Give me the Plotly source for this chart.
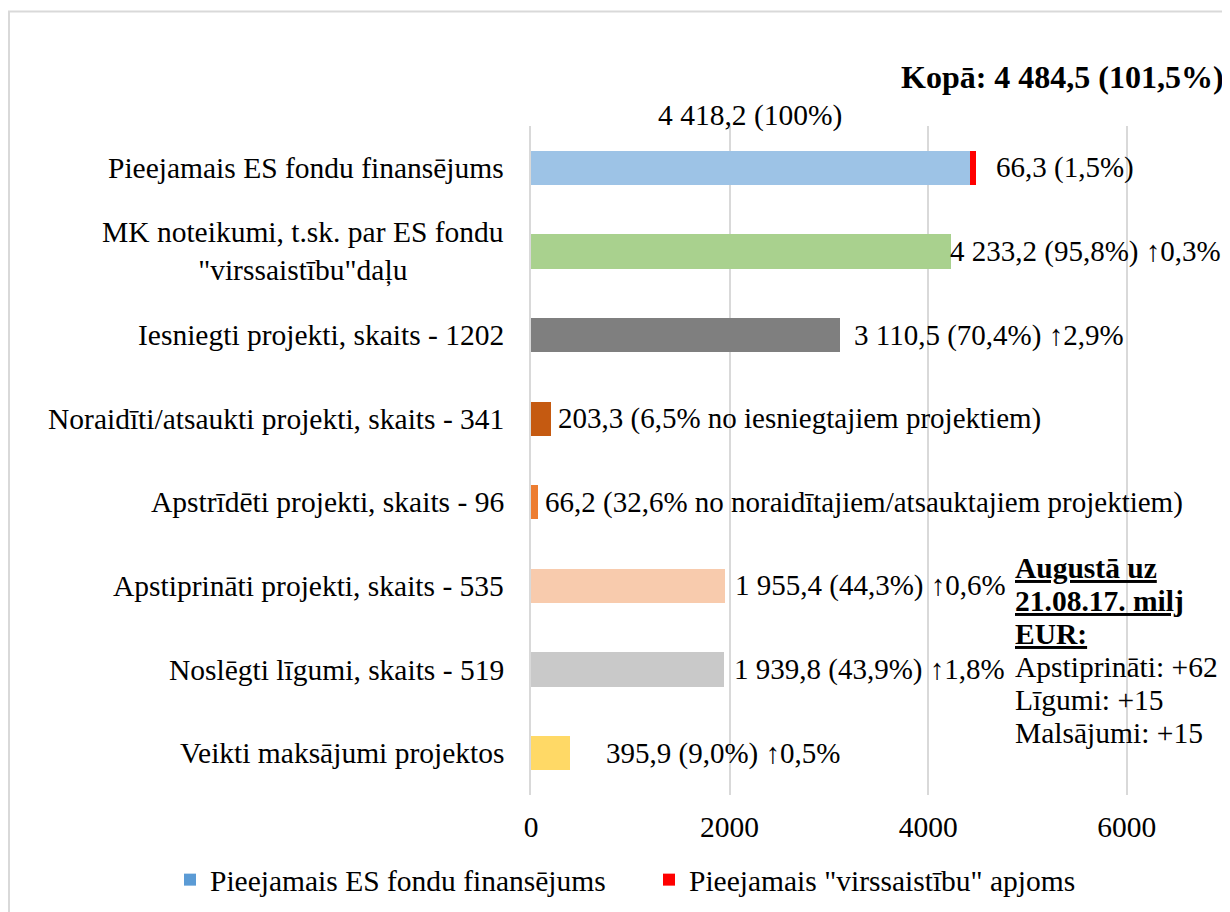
import plotly.graph_objects as go

categories = [
    "Pieejamais ES fondu finansējums",
    "MK noteikumi, t.sk. par ES fondu<br>\"virssaistību\"daļu",
    "Iesniegti projekti, skaits - 1202",
    "Noraidīti/atsaukti projekti, skaits - 341",
    "Apstrīdēti projekti, skaits - 96",
    "Apstiprināti projekti, skaits - 535",
    "Noslēgti līgumi, skaits - 519",
    "Veikti maksājumi projektos",
]
main_values = [4418.2, 4233.2, 3110.5, 203.3, 66.2, 1955.4, 1939.8, 395.9]
main_colors = ["#9DC3E6", "#A9D18E", "#7F7F7F", "#C55A11", "#ED7D31", "#F8CBAD", "#C9C9C9", "#FFD966"]
over_values = [66.3, 0, 0, 0, 0, 0, 0, 0]
value_labels = [
    "66,3 (1,5%)",
    "4 233,2 (95,8%) ↑0,3%",
    "3 110,5 (70,4%) ↑2,9%",
    "203,3 (6,5% no iesniegtajiem projektiem)",
    "66,2 (32,6% no noraidītajiem/atsauktajiem projektiem)",
    "1 955,4 (44,3%) ↑0,6%",
    "1 939,8 (43,9%) ↑1,8%",
    "395,9 (9,0%) ↑0,5%",
]
label_shift = [18, -3, 12, 5, 5, 8, 8, 34]
top_label = "4 418,2 (100%)"
total_label = "<b>Kopā: 4 484,5 (101,5%)</b>"
note_lines = ["<b><u>Augustā uz</u></b>", "<b><u>21.08.17. milj</u></b>", "<b><u>EUR:</u></b>",
              "Apstiprināti: +62", "Līgumi: +15", "Malsājumi: +15"]
legend_names = ["Pieejamais ES fondu finansējums", "Pieejamais \"virssaistību\" apjoms"]
legend_colors = ["#5B9BD5", "#FF0000"]
x_ticks = [0, 2000, 4000, 6000]

FONT = "Liberation Serif"
FS = 29.5
FS_VAL = 29


def f(size=FS):
    return dict(family=FONT, size=size, color="#000")


fig = go.Figure()
fig.add_trace(go.Bar(y=categories, x=main_values, orientation="h", marker=dict(color=main_colors, line=dict(width=0)),
                     width=0.41, showlegend=False, hoverinfo="x"))
fig.add_trace(go.Bar(y=categories, x=over_values, orientation="h", marker=dict(color="#FF0000", line=dict(width=0)),
                     width=0.41, showlegend=False, hoverinfo="x"))
for n, c in zip(legend_names, legend_colors):
    fig.add_trace(go.Bar(y=[None], x=[None], orientation="h", name=n, marker_color=c))

annotations = []
for cat, mv, ov, lab, sh in zip(categories, main_values, over_values, value_labels, label_shift):
    annotations.append(dict(x=mv + ov, y=cat, xref="x", yref="y", text=lab, showarrow=False,
                            xanchor="left", yanchor="middle", xshift=sh, font=f(FS_VAL)))
    annotations.append(dict(x=0, y=cat, xref="x", yref="y", text=cat, showarrow=False, align="center",
                            xanchor="right", yanchor="middle", xshift=-25, font=f()))
annotations.append(dict(x=main_values[0] / 2, y=categories[0], xref="x", yref="y", text=top_label, showarrow=False,
                        xanchor="center", yanchor="middle", yshift=52, font=f()))
annotations.append(dict(x=1.0, y=1.073, xref="paper", yref="paper", text=total_label, showarrow=False,
                        xanchor="right", yanchor="middle", font=f(32)))
for i, line in enumerate(note_lines):
    annotations.append(dict(x=0.693, y=categories[5], xref="paper", yref="y", text=line, showarrow=False,
                            xanchor="left", yanchor="middle", yshift=18 - 33 * i, font=f()))

fig.update_layout(
    template="none",
    width=1230, height=912,
    margin=dict(l=523, r=12, t=118, b=125, autoexpand=False),
    paper_bgcolor="white", plot_bgcolor="white",
    barmode="stack", bargap=0.59,
    font=f(),
    xaxis=dict(range=[0, 7000], tickvals=x_ticks, ticktext=[str(t) for t in x_ticks], showgrid=True,
               gridcolor="#D9D9D9", gridwidth=1.5, zeroline=False, showline=False, ticks="",
               tickfont=f(), ticklabelstandoff=11, fixedrange=True),
    yaxis=dict(autorange="reversed", showticklabels=False, showgrid=False, zeroline=False,
               showline=True, linecolor="#D9D9D9", linewidth=2, ticks="", fixedrange=True),
    legend=dict(orientation="h", x=(162 - 523) / 695, xanchor="left",
                y=-0.127, yanchor="middle", font=f(), traceorder="normal", itemwidth=30,
                entrywidth=434, entrywidthmode="pixels"),
    annotations=annotations,
    shapes=[dict(type="rect", xref="paper", yref="paper", x0=(1 - 523) / 695, x1=(1240 - 523) / 695,
                 y0=(787 - 930) / 669, y1=(787 - 3.5) / 669, line=dict(color="#D9D9D9", width=2), layer="below")],
)

fig.write_html("out.html")
